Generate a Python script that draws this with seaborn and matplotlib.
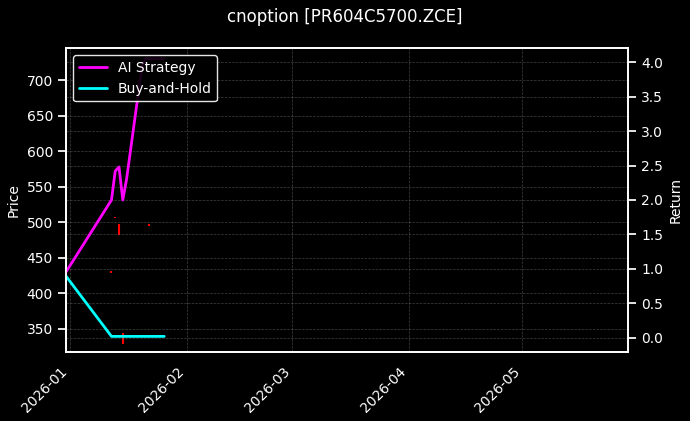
import matplotlib
matplotlib.use("Agg")
import matplotlib.pyplot as plt
import matplotlib.dates as mdates
import seaborn as sns
import pandas as pd
import numpy as np

sns.set_theme(style="dark")
plt.style.use("dark_background")
plt.rcParams.update({"font.size": 10, "axes.labelsize": 10, "xtick.labelsize": 10,
                     "ytick.labelsize": 10, "legend.fontsize": 10, "font.family": ["DejaVu Sans"]})

strat_dates = ["2025-12-31", "2026-01-12", "2026-01-13", "2026-01-14", "2026-01-15",
               "2026-01-16", "2026-01-20", "2026-01-21", "2026-01-26"]
strat_ret = [0.96, 2.0, 2.42, 2.48, 2.0, 2.3, 3.9, 4.05, 4.05]
bh_dates = ["2025-12-31", "2026-01-12", "2026-01-13", "2026-01-14", "2026-01-15",
            "2026-01-16", "2026-01-20", "2026-01-21", "2026-01-26"]
bh_ret = [0.89, 0.02, 0.02, 0.02, 0.02, 0.02, 0.02, 0.02, 0.02]
# small red price wicks
wick_dates = ["2026-01-12", "2026-01-13", "2026-01-14", "2026-01-15", "2026-01-22"]
wick_low = [429, 506, 482, 328, 495]
wick_high = [431, 508, 497, 344, 497]

fig, ax = plt.subplots(figsize=(6.9, 4.21), dpi=100)
fig.patch.set_facecolor("black")
ax.set_facecolor("black")
ax2 = ax.twinx()

wd = pd.to_datetime(wick_dates)
ax.vlines(wd, wick_low, wick_high, color="red", linewidth=1.5)
ax.set_ylim(318, 745)
ax.set_ylabel("Price", color="white")
ax.grid(True, color="gray", linestyle="--", linewidth=0.5, alpha=0.5)

sdf = pd.DataFrame({"date": pd.to_datetime(strat_dates), "ret": strat_ret})
bdf = pd.DataFrame({"date": pd.to_datetime(bh_dates), "ret": bh_ret})
sns.lineplot(data=sdf, x="date", y="ret", ax=ax2, color="#ff00ff", linewidth=2, label="AI Strategy")
sns.lineplot(data=bdf, x="date", y="ret", ax=ax2, color="#00ffff", linewidth=2, label="Buy-and-Hold")
ax2.set_ylim(-0.2, 4.2)
ax2.set_ylabel("Return", color="white")
ax2.set_xlabel("")
ax2.grid(True, axis="y", color="gray", linestyle="--", linewidth=0.5, alpha=0.5)
ax2.legend(loc="upper left", facecolor="black", edgecolor="white", framealpha=0.9)

ax.set_xlim(pd.Timestamp("2025-12-31"), pd.Timestamp("2026-05-29"))
ax.xaxis.set_major_locator(mdates.MonthLocator())
ax.xaxis.set_major_formatter(mdates.DateFormatter("%Y-%m"))
ax.set_xlabel("")
for lab in ax.get_xticklabels():
    lab.set_rotation(45)
    lab.set_ha("right")

fig.suptitle("cnoption [PR604C5700.ZCE]", color="white", fontsize=12)
fig.subplots_adjust(left=0.096, right=0.91, top=0.885, bottom=0.165)
fig.savefig("out.png", dpi=100, facecolor="black")
